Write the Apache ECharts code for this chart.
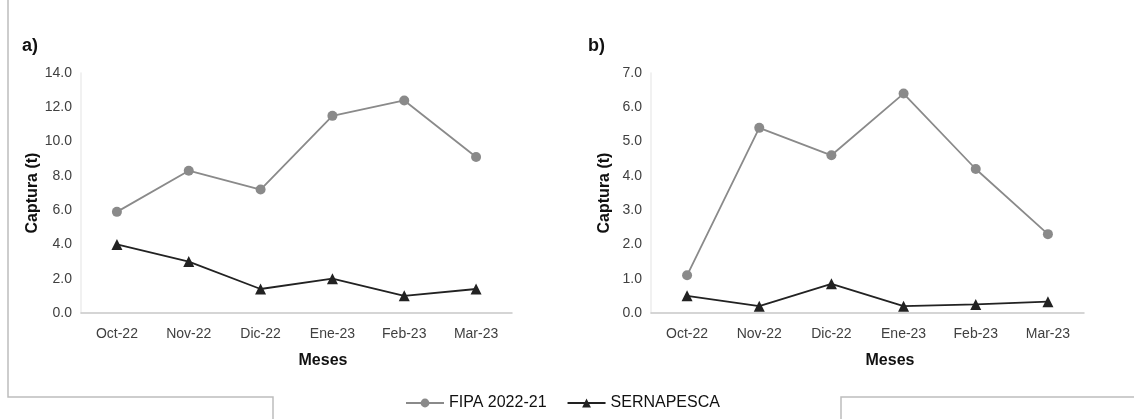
<!DOCTYPE html>
<html>
<head>
<meta charset="utf-8">
<script src="https://cdn.jsdelivr.net/npm/echarts@6/dist/echarts.min.js"></script>
<style>
html,body{margin:0;padding:0;background:#fff;}
#c{width:1134px;height:419px;}
</style>
</head>
<body>
<div id="c"></div>
<script>
const months = ['Oct-22','Nov-22','Dic-22','Ene-23','Feb-23','Mar-23'];
const seriesNames = ['FIPA 2022-21','SERNAPESCA'];
const fipaA = [5.9, 8.3, 7.2, 11.5, 12.4, 9.1];
const sernaA = [4.0, 3.0, 1.4, 2.0, 1.0, 1.4];
const fipaB = [1.1, 5.4, 4.6, 6.4, 4.2, 2.3];
const sernaB = [0.5, 0.2, 0.85, 0.2, 0.25, 0.33];
const panelLabels = ['a)','b)'];
const yTitle = 'Captura (t)';
const xTitle = 'Meses';

const FONT = "'Liberation Sans',Arial,sans-serif";
const chart = echarts.init(document.getElementById('c'));

function xAxis(idx){
  return {
    type:'category', gridIndex:idx, data:months, boundaryGap:true,
    axisLine:{lineStyle:{color:'#c8c8c8',width:1.5}},
    axisTick:{show:false},
    axisLabel:{color:'#404040',fontFamily:FONT,fontSize:14,margin:14}
  };
}
function yAxis(idx,max,interval,gap){
  return {
    type:'value', gridIndex:idx, min:0, max:max, interval:interval,
    axisLine:{show:true,lineStyle:{color:'#ececec',width:1.5}},
    axisTick:{show:false},
    splitLine:{show:false},
    axisLabel:{color:'#404040',fontFamily:FONT,fontSize:14,margin:9,formatter:v=>v.toFixed(1)},
    name:yTitle, nameLocation:'middle', nameRotate:90, nameGap:gap,
    nameTextStyle:{color:'#111',fontFamily:FONT,fontSize:16,fontWeight:'bold'}
  };
}
function lineSeries(name,data,idx,isFipa){
  return {
    name:name, type:'line', xAxisIndex:idx, yAxisIndex:idx, data:data,
    symbol: isFipa ? 'circle' : 'triangle',
    symbolSize: isFipa ? 10 : 11,
    lineStyle:{color: isFipa ? '#8a8a8a' : '#222', width: 1.8},
    itemStyle:{color: isFipa ? '#8a8a8a' : '#222'},
    z: isFipa ? 2 : 3
  };
}

chart.setOption({
  animation:false,
  grid:[
    {left:81, right:622, top:73, bottom:106},
    {left:651, right:50, top:73, bottom:106}
  ],
  xAxis:[xAxis(0), xAxis(1)],
  yAxis:[yAxis(0,14,2,40), yAxis(1,7,1,38)],
  legend:{
    data:seriesNames, left:400, top:390, itemWidth:38, itemHeight:11, itemGap:20,
    textStyle:{color:'#111',fontFamily:FONT,fontSize:16}
  },
  series:[
    lineSeries(seriesNames[0],fipaA,0,true),
    lineSeries(seriesNames[1],sernaA,0,false),
    lineSeries(seriesNames[0],fipaB,1,true),
    lineSeries(seriesNames[1],sernaB,1,false)
  ],
  graphic:[
    {type:'text', left:22, top:37, style:{text:panelLabels[0], fill:'#111', font:"bold 18px "+FONT}},
    {type:'text', left:588, top:37, style:{text:panelLabels[1], fill:'#111', font:"bold 18px "+FONT}},
    {type:'text', x:323, y:361, style:{text:xTitle, fill:'#111', font:"bold 16px "+FONT, textAlign:'center', textVerticalAlign:'middle'}},
    {type:'text', x:890, y:361, style:{text:xTitle, fill:'#111', font:"bold 16px "+FONT, textAlign:'center', textVerticalAlign:'middle'}},
    {type:'polyline', shape:{points:[[8,0],[8,397],[273,397],[273,419]]}, style:{stroke:'#bdbdbd', lineWidth:1.5, fill:null}},
    {type:'polyline', shape:{points:[[841,419],[841,397],[1134,397]]}, style:{stroke:'#bdbdbd', lineWidth:1.5, fill:null}}
  ]
});
</script>
</body>
</html>
